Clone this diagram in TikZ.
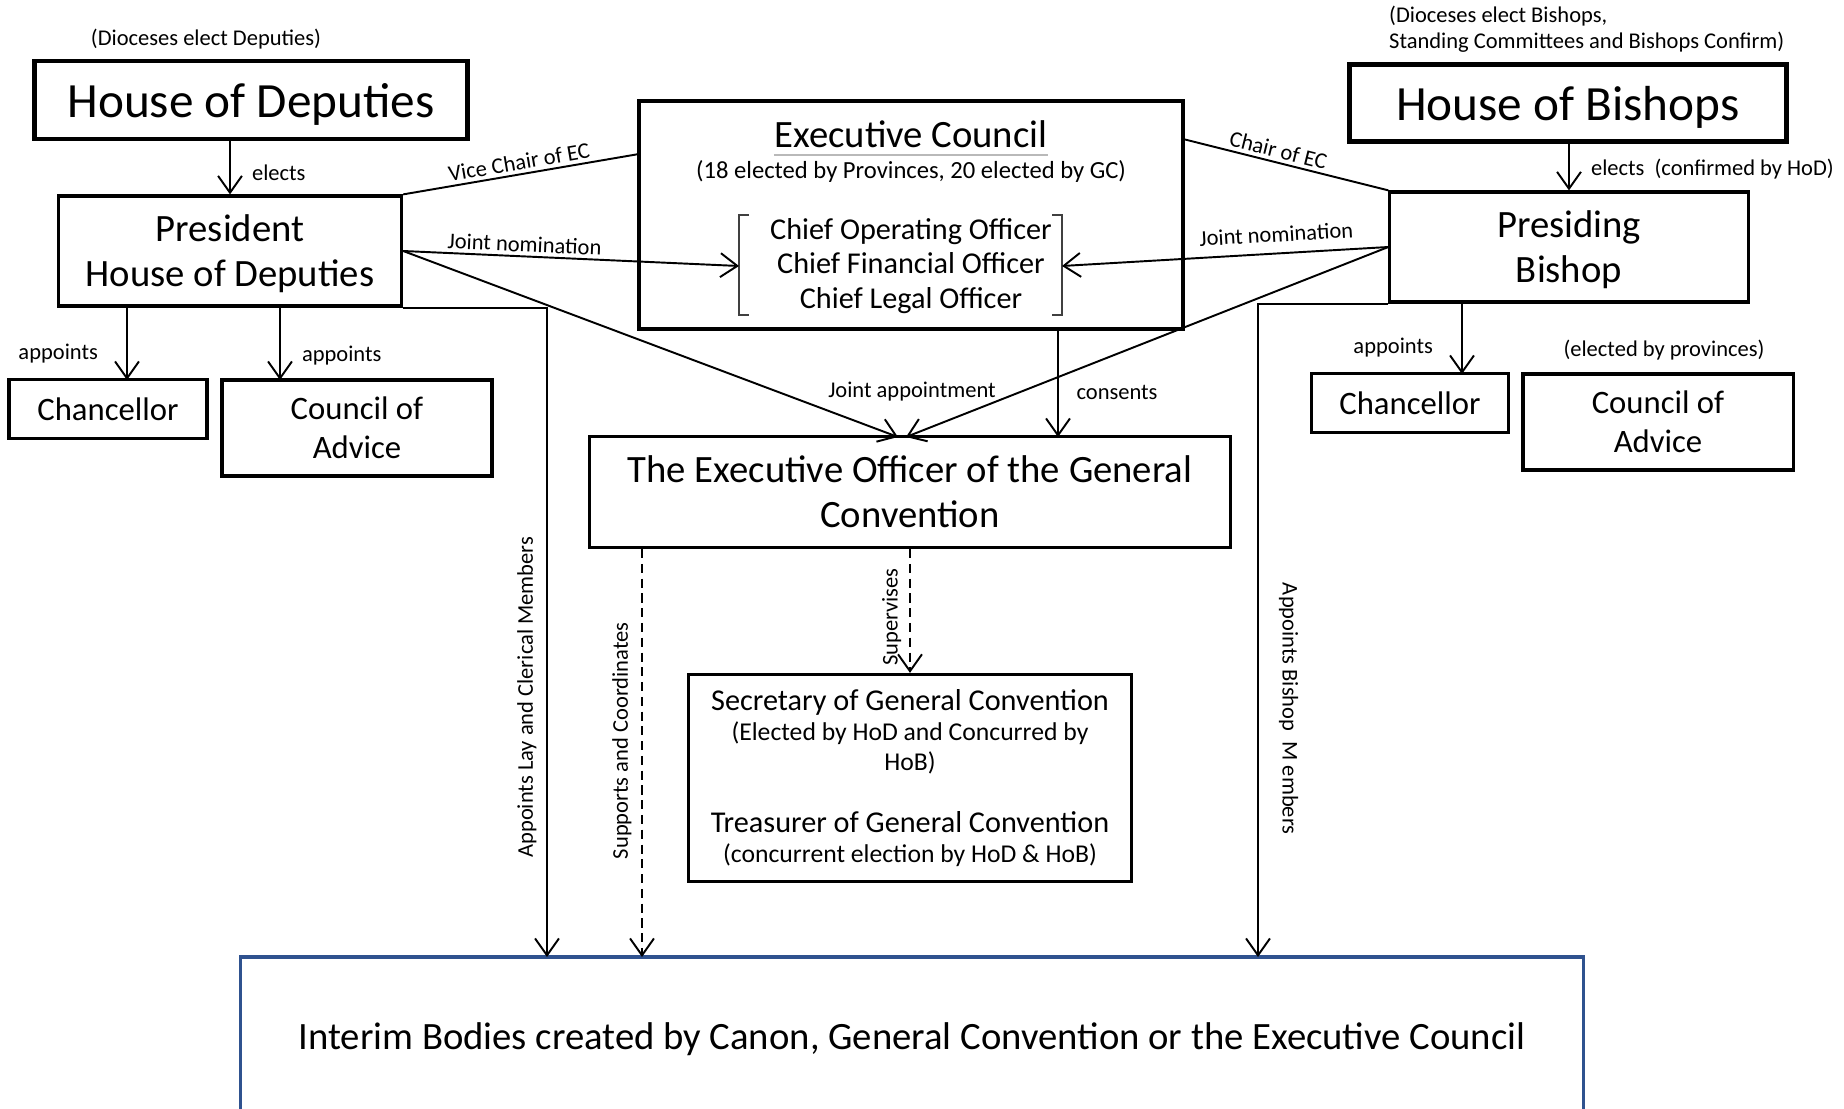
\documentclass[tikz,border=0pt]{standalone}
\usepackage{fontspec}
\setmainfont{Carlito}
\usepackage{tikz}
\usetikzlibrary{arrows.meta}
\definecolor{interimblue}{RGB}{47,82,143}
\newcommand{\hugesz}{\fontsize{14}{17}\selectfont}
\newcommand{\headsz}{\fontsize{11}{12.8}\selectfont}
\newcommand{\boxsz}{\fontsize{9.3}{11.1}\selectfont}
\newcommand{\officesz}{\fontsize{8.6}{9.9}\selectfont}
\newcommand{\secsz}{\fontsize{8.6}{8.6}\selectfont}
\newcommand{\subsz}{\fontsize{7.3}{8.6}\selectfont}
\newcommand{\notesz}{\fontsize{6.4}{7.4}\selectfont}
\tikzset{
  orgbox/.style = {draw=black, align=center, inner sep=0pt, text centered, line width=0.9pt},
  housebox/.style = {orgbox, line width=1.4pt, font=\hugesz, text depth=0pt},
  headbox/.style = {orgbox, font=\headsz, text depth=0pt},
  smallbox/.style = {orgbox, font=\boxsz},
  smalltext/.style = {align=left, inner sep=1pt, font=\notesz},
  vlabel/.style = {smalltext, rotate=90, anchor=south, outer sep=2pt},
  link/.style = {line width=0.55pt},
  arr/.style = {link, -{Straight Barb[length=4.8pt,width=6.8pt]}},
  dasharr/.style = {arr, dash pattern=on 2.6pt off 1.6pt},
}

\begin{document}
\begin{tikzpicture}[x=0.01cm, y=-0.01cm]
\useasboundingbox (0,0) rectangle (1844,1109);

% the two houses
\node[housebox, minimum width=4.32cm, minimum height=0.78cm] (hod) at (251,100) {House of Deputies};
\node[housebox, minimum width=4.36cm, minimum height=0.77cm] (hob) at (1568,103) {House of Bishops};
\node[smalltext] (hodnote) at (206,39) {(Dioceses elect Deputies)};
\node[smalltext, anchor=west] (hobnote) at (1385,29) {(Dioceses elect Bishops,\\Standing Committees and Bishops Confirm)};

\node[headbox, minimum width=3.43cm, minimum height=1.10cm] (pres) at (230,251) {President\\House of Deputies};
\node[headbox, minimum width=3.58cm, minimum height=1.10cm] (pb) at (1569,247) {Presiding\\Bishop};

% executive council
\node[orgbox, line width=1.2pt, minimum width=5.44cm, minimum height=2.28cm] (ec) at (911,215) {};
\node[font=\headsz, inner sep=0pt] (ectitle) at (911,134) {Executive Council};
\draw[gray!55, line width=0.8pt] ([yshift=-2.2pt]ectitle.base west) -- ([yshift=-2.2pt]ectitle.base east);
\node[font=\fontsize{7}{8}\selectfont] (ecsub) at (911,171) {(18 elected by Provinces, 20 elected by GC)};
\node[font=\officesz, align=center, inner sep=0pt] (officers) at (911,266) {Chief Operating Officer\\Chief Financial Officer\\Chief Legal Officer};
\coordinate (lbr) at (739,266);
\coordinate (rbr) at (1062,266);
\draw[black!75, line width=0.6pt] (749,215) -- (739,215) -- (739,315) -- (749,315);
\draw[black!75, line width=0.6pt] (1052,215) -- (1062,215) -- (1062,315) -- (1052,315);

\node[headbox, minimum width=6.40cm, minimum height=1.11cm] (eo) at (910,492) {The Executive Officer of the General\\Convention};
\node[orgbox, font=\subsz, minimum width=4.42cm, minimum height=2.07cm] (sec) at (910,778) {\secsz Secretary of General Convention\\\subsz (Elected by HoD and Concurred by\\\subsz HoB)\\[9pt]\secsz Treasurer of General Convention\\\subsz (concurrent election by HoD \& HoB)};

\node[smallbox, minimum width=1.98cm, minimum height=0.59cm] (chanl) at (108,409) {Chancellor};
\node[smallbox, minimum width=2.70cm, minimum height=0.96cm] (coal) at (357,428) {Council of\\Advice};
\node[smallbox, minimum width=1.97cm, minimum height=0.59cm] (chanr) at (1410,403) {Chancellor};
\node[smallbox, minimum width=2.70cm, minimum height=0.96cm] (coar) at (1658,422) {Council of\\Advice};
\node[smalltext] (coarnote) at (1664,350) {(elected by provinces)};

\node[draw=interimblue, line width=1pt, minimum width=13.42cm, minimum height=1.58cm, inner sep=0pt, text depth=0pt, font=\headsz] (interim) at (912,1036) {Interim Bodies created by Canon, General Convention or the Executive Council};

\coordinate (ecl) at (639,154);
\coordinate (ecr) at (1183,139);
\coordinate (ca) at (127,380);
\coordinate (cb) at (280,380);
\coordinate (cc) at (1462,374);
\coordinate (jl) at (898,437);
\coordinate (jr) at (906,437);
\coordinate (cons) at (1058,437);
\coordinate (lay) at (547,957);
\coordinate (sup) at (642,957);
\coordinate (bsh) at (1258,957);

\draw[arr] (pres.north |- hod.south) -- node[smalltext, right=5pt, pos=0.6] (electsl) {elects} (pres.north);
\draw[arr] (pb.north |- hob.south) -- node[smalltext, right=5pt, pos=0.55] (electsr) {elects\ \ (confirmed by HoD)} (pb.north);

\draw[link] (pres.north east) -- node[smalltext, above, sloped] (vicelbl) {Vice Chair of EC} (ecl);
\draw[link] (ecr) -- node[smalltext, above, sloped, pos=0.45] (chairlbl) {Chair of EC} (pb.north west);

\draw[arr] (pres.east) -- node[smalltext, above, sloped, pos=0.36] (jnl) {Joint nomination} (lbr);
\draw[arr] (pb.west) -- node[smalltext, above=2pt, sloped, pos=0.34] (jnr) {Joint nomination} (rbr);

\draw[arr] (pres.east) -- (jl);
\draw[arr] (pb.west) -- (jr);
\node[smalltext] (jointlbl) at (912,392) {Joint appointment};
\draw[arr] (cons |- ec.south) -- node[smalltext, right=4pt, pos=0.58] (conslbl) {consents} (cons);

\draw[dasharr] (eo.south) -- node[vlabel, outer sep=1.5pt, pos=0.55] (suplbl) {Supervises} (sec.north);
\draw[dasharr] (sup |- eo.south) -- node[vlabel, pos=0.47] (supplbl) {Supports and Coordinates} (sup);
\draw[arr] (pres.south east) -| node[vlabel, pos=0.8] (laylbl) {Appoints Lay and Clerical Members} (lay);
\draw[arr] (pb.south west) -| node[vlabel, rotate=180, outer sep=5pt, pos=0.81] (bshlbl) {Appoints Bishop\ \ M embers} (bsh);

\draw[arr] (pres.south -| ca) -- node[smalltext, left=7pt, pos=0.64] (apl1) {appoints} (ca);
\draw[arr] (pres.south -| cb) -- node[smalltext, right=5pt, pos=0.66] (apl2) {appoints} (cb);
\draw[arr] (pb.south -| cc) -- node[smalltext, left=7pt, pos=0.63] (apr1) {appoints} (cc);
\end{tikzpicture}
\end{document}
